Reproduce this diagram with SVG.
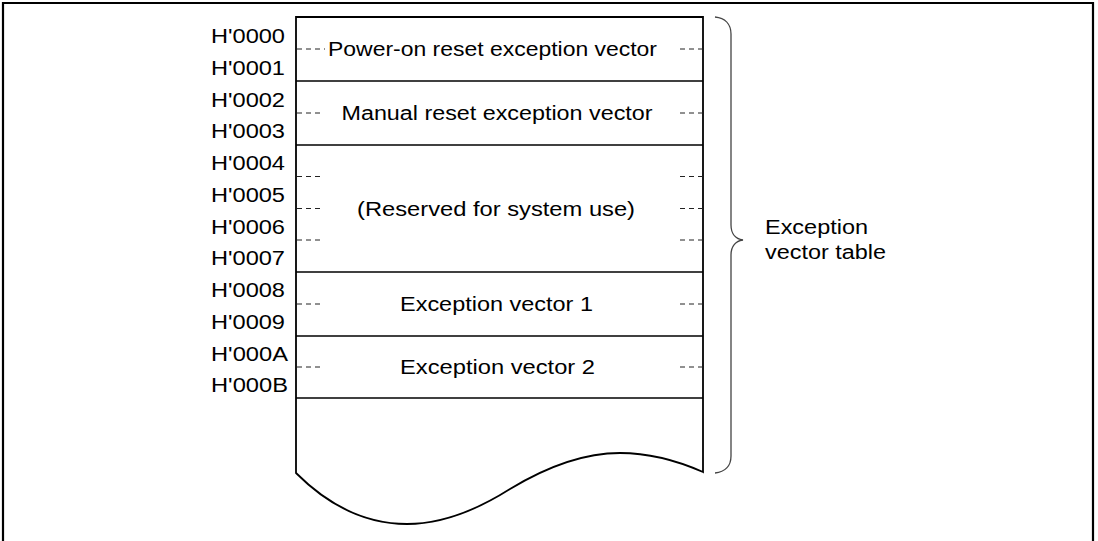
<svg xmlns="http://www.w3.org/2000/svg" width="1098" height="541" viewBox="0 0 1098 541">
<style>
text{font-family:"Liberation Sans",Arial,sans-serif;font-size:20px;fill:#000}
.frame{fill:none;stroke:#000;stroke-width:2.2}
.box{fill:#fff;stroke:#000;stroke-width:1.8}
.div{stroke:#000;stroke-width:1.6}
.dash{stroke:#222;stroke-width:1;stroke-dasharray:5 4}
.brace{fill:none;stroke:#444;stroke-width:1.3}
</style>
<rect width="1098" height="541" fill="#fff"/>
<path class="frame" d="M3,541 L3,3 L1093,3 L1093,541"/>
<g id="table">
<path class="box" d="M296,17 L703,17 L703,472 C678,461 650,453 620,453 C585,453 548,466 510,489 C480,508 445,524 407,524 C368,524 330,507 296,473 Z"/>
<line class="div" x1="296" y1="81" x2="703" y2="81"/>
<line class="div" x1="296" y1="145" x2="703" y2="145"/>
<line class="div" x1="296" y1="272" x2="703" y2="272"/>
<line class="div" x1="296" y1="336" x2="703" y2="336"/>
<line class="div" x1="296" y1="398" x2="703" y2="398"/>
</g>
<g id="addresses">
<text x="211" y="43" textLength="74" lengthAdjust="spacingAndGlyphs">H'0000</text>
<text x="211" y="74.75" textLength="74" lengthAdjust="spacingAndGlyphs">H'0001</text>
<text x="211" y="106.5" textLength="74" lengthAdjust="spacingAndGlyphs">H'0002</text>
<text x="211" y="138.25" textLength="74" lengthAdjust="spacingAndGlyphs">H'0003</text>
<text x="211" y="170" textLength="74" lengthAdjust="spacingAndGlyphs">H'0004</text>
<text x="211" y="201.75" textLength="74" lengthAdjust="spacingAndGlyphs">H'0005</text>
<text x="211" y="233.5" textLength="74" lengthAdjust="spacingAndGlyphs">H'0006</text>
<text x="211" y="265.25" textLength="74" lengthAdjust="spacingAndGlyphs">H'0007</text>
<text x="211" y="297" textLength="74" lengthAdjust="spacingAndGlyphs">H'0008</text>
<text x="211" y="328.75" textLength="74" lengthAdjust="spacingAndGlyphs">H'0009</text>
<text x="211" y="360.5" textLength="77" lengthAdjust="spacingAndGlyphs">H'000A</text>
<text x="211" y="392.25" textLength="77" lengthAdjust="spacingAndGlyphs">H'000B</text>
</g>
<g id="connectors">
<line class="dash" x1="297" y1="49" x2="325" y2="49"/>
<line class="dash" x1="703" y1="49" x2="678" y2="49"/>
<line class="dash" x1="297" y1="113" x2="322" y2="113"/>
<line class="dash" x1="703" y1="113" x2="678" y2="113"/>
<line class="dash" x1="297" y1="176.5" x2="322" y2="176.5"/>
<line class="dash" x1="703" y1="176.5" x2="678" y2="176.5"/>
<line class="dash" x1="297" y1="208.5" x2="322" y2="208.5"/>
<line class="dash" x1="703" y1="208.5" x2="678" y2="208.5"/>
<line class="dash" x1="297" y1="240" x2="322" y2="240"/>
<line class="dash" x1="703" y1="240" x2="678" y2="240"/>
<line class="dash" x1="297" y1="304" x2="322" y2="304"/>
<line class="dash" x1="703" y1="304" x2="678" y2="304"/>
<line class="dash" x1="297" y1="367" x2="322" y2="367"/>
<line class="dash" x1="703" y1="367" x2="678" y2="367"/>
</g>
<g id="row-poweron"><text x="328" y="56" textLength="329" lengthAdjust="spacingAndGlyphs">Power-on reset exception vector</text></g>
<g id="row-manual"><text x="341.5" y="120" textLength="311" lengthAdjust="spacingAndGlyphs">Manual reset exception vector</text></g>
<g id="row-reserved"><text x="357" y="215.5" textLength="278" lengthAdjust="spacingAndGlyphs">(Reserved for system use)</text></g>
<g id="row-vector1"><text x="400" y="311" textLength="193" lengthAdjust="spacingAndGlyphs">Exception vector 1</text></g>
<g id="row-vector2"><text x="400" y="374" textLength="195" lengthAdjust="spacingAndGlyphs">Exception vector 2</text></g>
<g id="brace-label">
<path class="brace" d="M715,17 C725,18 731,24 731,34 L731,225 C731,234 736,239 743,240 C736,241 731,246 731,255 L731,456 C731,466 725,472 715,473"/>
<text x="765" y="233.5" textLength="103" lengthAdjust="spacingAndGlyphs">Exception</text>
<text x="765" y="258.5" textLength="121" lengthAdjust="spacingAndGlyphs">vector table</text>
</g>
</svg>
